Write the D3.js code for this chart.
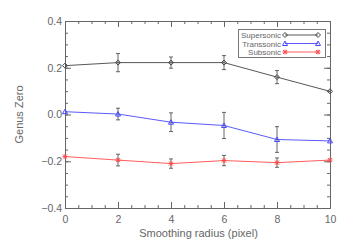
<!DOCTYPE html>
<meta charset="utf-8">
<title>Genus Zero</title>
<script src="https://cdn.jsdelivr.net/npm/d3@7"></script>
<style>
  body { margin: 0; background: #fff; }
  text { font-family: "Liberation Sans", Arial, sans-serif; fill: #666; }
</style>
<div id="chart"></div>
<script>
  // data
  var radius = [0, 2, 4, 6, 8, 10];
  var supersonic = [0.209, 0.222, 0.222, 0.222, 0.160, 0.099];
  var supersonicErr = [0, 0.039, 0.024, 0.030, 0.028, 0];
  var transonic = [0.012, 0.002, -0.033, -0.047, -0.107, -0.113];
  var transonicErr = [0, 0.025, 0.040, 0.056, 0.055, 0];
  var subsonic = [-0.180, -0.195, -0.210, -0.197, -0.206, -0.195];
  var subsonicErr = [0, 0.025, 0.020, 0.022, 0.020, 0];
  var yTicks = [-0.4, -0.2, 0.0, 0.2, 0.4];
  var xTicks = [0, 2, 4, 6, 8, 10];

  var series = [
    { name: "Supersonic", values: supersonic, err: supersonicErr, color: "#444", sym: "diamond" },
    { name: "Transsonic", values: transonic, err: transonicErr, color: "#4646ff", sym: "triangle" },
    { name: "Subsonic", values: subsonic, err: subsonicErr, color: "#ff4a4a", sym: "star" }
  ];

  var W = 350, H = 250;
  var margin = { top: 21, right: 20, bottom: 42, left: 65 };
  var w = W - margin.left - margin.right, h = H - margin.top - margin.bottom;

  var svg = d3.select("#chart").append("svg")
    .attr("width", W).attr("height", H);
  var g = svg.append("g")
    .attr("transform", "translate(" + margin.left + "," + margin.top + ")");

  var x = d3.scaleLinear().domain([0, 10]).range([0, w]);
  var y = d3.scaleLinear().domain([-0.4, 0.4]).range([h, 0]);

  var axisColor = "#666";
  var xMinor = d3.range(0, 10.01, 0.5);
  var yMinor = d3.range(-0.4, 0.401, 0.05);

  function drawAxis(sel) {
    sel.select(".domain").attr("stroke", axisColor);
    sel.selectAll("line").attr("stroke", axisColor);
    sel.selectAll("text").attr("font-size", 10.5).attr("fill", axisColor);
  }

  // inward ticks on all four sides, major + minor
  function axisPair(axisFn, scale, major, minor, pad, fmt, tr) {
    g.append("g").attr("transform", tr || null)
      .call(axisFn(scale).tickValues(major).tickSizeInner(-6).tickSizeOuter(0)
        .tickPadding(pad).tickFormat(fmt || "")).call(drawAxis);
    g.append("g").attr("transform", tr || null)
      .call(axisFn(scale).tickValues(minor).tickSizeInner(-3).tickSizeOuter(0)
        .tickFormat("")).call(drawAxis);
  }

  var yFmt = function (d) { return (d < 0 ? "\u2212" : "") + d3.format(".1f")(Math.abs(d)); };
  axisPair(d3.axisBottom, x, xTicks, xMinor, 8, d3.format("d"), "translate(0," + h + ")");
  axisPair(d3.axisTop, x, xTicks, xMinor, 8, null, null);
  axisPair(d3.axisLeft, y, yTicks, yMinor, 3, yFmt, null);
  axisPair(d3.axisRight, y, yTicks, yMinor, 3, null, "translate(" + w + ",0)");

  // axis titles
  svg.append("text")
    .attr("x", margin.left + w / 2 + 1).attr("y", 237)
    .attr("text-anchor", "middle").attr("font-size", 11)
    .text("Smoothing radius (pixel)");
  svg.append("text")
    .attr("transform", "translate(23," + (margin.top + y(0)) + ") rotate(-90)")
    .attr("text-anchor", "middle").attr("font-size", 11)
    .text("Genus Zero");

  function symbolPath(sym) {
    if (sym === "diamond") return "M0,-2.5L2.5,0L0,2.5L-2.5,0Z";
    if (sym === "triangle") return "M0,-2.5L2.5,2L-2.5,2Z";
    return "M-2,-2L2,2M-2,2L2,-2M0,-2.5L0,2.5M-2.5,0L2.5,0";
  }

  var line = d3.line()
    .x(function (d, i) { return x(radius[i]); })
    .y(function (d) { return y(d); });

  series.forEach(function (s) {
    var sg = g.append("g");
    sg.append("path").datum(s.values)
      .attr("d", line).attr("fill", "none")
      .attr("stroke", s.color).attr("stroke-width", 0.9);

    // error bars
    var eb = sg.selectAll(".eb").data(s.values.map(function (v, i) { return { v: v, e: s.err[i], r: radius[i] }; })
      .filter(function (d) { return d.e > 0; }))
      .enter().append("g");
    eb.append("line")
      .attr("x1", function (d) { return x(d.r); }).attr("x2", function (d) { return x(d.r); })
      .attr("y1", function (d) { return y(d.v - d.e); }).attr("y2", function (d) { return y(d.v + d.e); })
      .attr("stroke", "#555").attr("stroke-width", 0.9);
    [-1, 1].forEach(function (k) {
      eb.append("line")
        .attr("x1", function (d) { return x(d.r) - 2; }).attr("x2", function (d) { return x(d.r) + 2; })
        .attr("y1", function (d) { return y(d.v + k * d.e); }).attr("y2", function (d) { return y(d.v + k * d.e); })
        .attr("stroke", "#555").attr("stroke-width", 0.9);
    });

    sg.selectAll(".pt").data(s.values).enter().append("path")
      .attr("transform", function (d, i) { return "translate(" + x(radius[i]) + "," + y(d) + ")"; })
      .attr("d", symbolPath(s.sym))
      .attr("fill", "none").attr("stroke", s.color).attr("stroke-width", 1);
  });

  // legend
  var lg = svg.append("g").attr("transform", "translate(238,29)");
  lg.append("rect").attr("x", 0.5).attr("y", 0.5).attr("width", 87).attr("height", 28)
    .attr("fill", "#fff").attr("stroke", "#777").attr("stroke-width", 1);
  series.forEach(function (s, i) {
    var yy = 6 + i * 8.5;
    lg.append("text").attr("x", 43).attr("y", yy + 3)
      .attr("text-anchor", "end").attr("font-size", 8).text(s.name);
    lg.append("line").attr("x1", 47).attr("x2", 80).attr("y1", yy).attr("y2", yy)
      .attr("stroke", s.color).attr("stroke-width", 0.9);
    [47, 80].forEach(function (px) {
      lg.append("path").attr("transform", "translate(" + px + "," + yy + ")")
        .attr("d", symbolPath(s.sym)).attr("fill", "none")
        .attr("stroke", s.color).attr("stroke-width", 1);
    });
  });
</script>
